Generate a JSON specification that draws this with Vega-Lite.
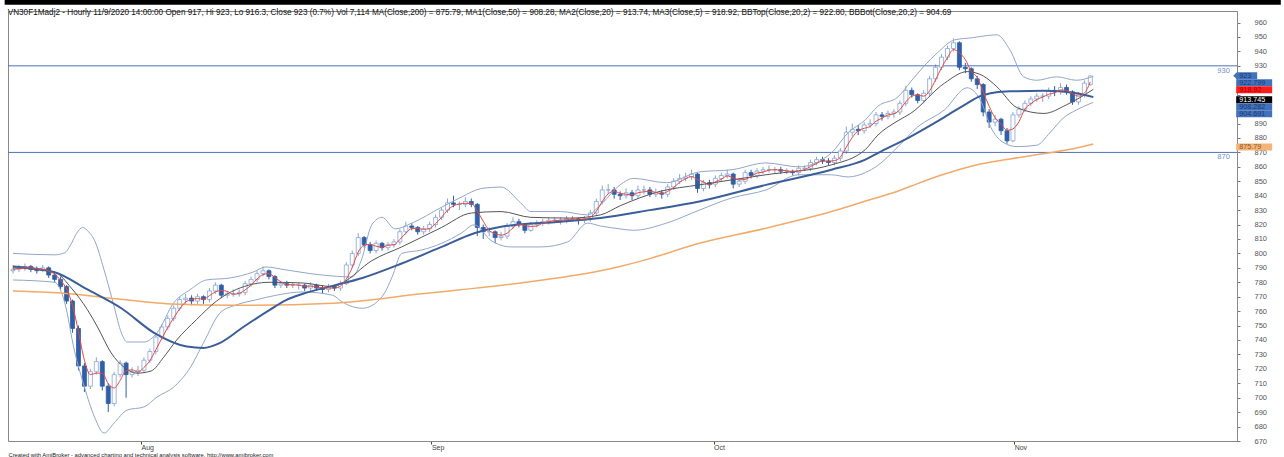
{
"$schema": "https://vega.github.io/schema/vega-lite/v6.json",
"width": 1229, "height": 430,
"autosize": {"type": "none"},
"padding": {"left": 8, "top": 11, "right": 47, "bottom": 16},
"background": "white",
"config": {"view": {"stroke": "#8a8a8a", "strokeWidth": 1}, "font": "Liberation Sans", "axis": {"labelOverlap": false}, "axisY": {"labelOverlap": false}},
"title": {"text": "VN30F1Madj2 - Hourly 11/9/2020 14:00:00 Open 917, Hi 923, Lo 916.3, Close 923 (0.7%) Vol 7,114 MA(Close,200) = 875.79, MA1(Close,50) = 908.28, MA2(Close,20) = 913.74, MA3(Close,5) = 918.92, BBTop(Close,20,2) = 922.80, BBBot(Close,20,2) = 904.69", "anchor": "start", "orient": "top", "offset": -6, "dx": 3, "dy": 12, "fontSize": 8.2, "fontWeight": "normal", "font": "Liberation Sans", "color": "#111111"},
"datasets": {
"candles": [
{"i":0,"o":788,"h":792,"l":786,"c":789,"m":789},
{"i":1,"o":789,"h":792,"l":787,"c":790,"m":789.5},
{"i":2,"o":790,"h":793,"l":788,"c":791,"m":790},
{"i":3,"o":791,"h":792,"l":787,"c":789,"m":790},
{"i":4,"o":789,"h":791,"l":786,"c":788,"m":789.3},
{"i":5,"o":788,"h":792,"l":787,"c":790,"m":789},
{"i":6,"o":790,"h":791,"l":783,"c":785,"m":787.7},
{"i":7,"o":785,"h":787,"l":780,"c":782,"m":785.7},
{"i":8,"o":782,"h":784,"l":775,"c":777,"m":781.3},
{"i":9,"o":777,"h":778,"l":765,"c":767,"m":775.3},
{"i":10,"o":767,"h":768,"l":745,"c":748,"m":764},
{"i":11,"o":748,"h":750,"l":719,"c":722,"m":745.7},
{"i":12,"o":722,"h":724,"l":704,"c":708,"m":726},
{"i":13,"o":708,"h":720,"l":706,"c":718,"m":716},
{"i":14,"o":718,"h":728,"l":716,"c":725,"m":717},
{"i":15,"o":725,"h":726,"l":705,"c":708,"m":717},
{"i":16,"o":708,"h":710,"l":690,"c":696,"m":709.7},
{"i":17,"o":696,"h":718,"l":694,"c":716,"m":706.7},
{"i":18,"o":716,"h":726,"l":714,"c":724,"m":712},
{"i":19,"o":724,"h":725,"l":700,"c":716,"m":718.7},
{"i":20,"o":716,"h":721,"l":714,"c":718,"m":719.3},
{"i":21,"o":718,"h":722,"l":715,"c":719,"m":717.7},
{"i":22,"o":719,"h":728,"l":717,"c":726,"m":721},
{"i":23,"o":726,"h":734,"l":724,"c":732,"m":725.7},
{"i":24,"o":732,"h":744,"l":730,"c":742,"m":733.3},
{"i":25,"o":742,"h":751,"l":740,"c":749,"m":741},
{"i":26,"o":749,"h":757,"l":747,"c":755,"m":748.7},
{"i":27,"o":755,"h":764,"l":753,"c":762,"m":755.3},
{"i":28,"o":762,"h":770,"l":760,"c":768,"m":761.7},
{"i":29,"o":768,"h":772,"l":765,"c":769,"m":766.3},
{"i":30,"o":769,"h":771,"l":764,"c":767,"m":768},
{"i":31,"o":767,"h":772,"l":765,"c":770,"m":768.7},
{"i":32,"o":770,"h":771,"l":765,"c":768,"m":768.3},
{"i":33,"o":768,"h":776,"l":766,"c":774,"m":770.7},
{"i":34,"o":774,"h":780,"l":772,"c":778,"m":773.3},
{"i":35,"o":778,"h":779,"l":769,"c":771,"m":774.3},
{"i":36,"o":771,"h":774,"l":769,"c":772,"m":773.7},
{"i":37,"o":772,"h":775,"l":770,"c":772,"m":771.7},
{"i":38,"o":772,"h":775,"l":770,"c":773,"m":772.3},
{"i":39,"o":773,"h":781,"l":771,"c":779,"m":774.7},
{"i":40,"o":779,"h":784,"l":777,"c":782,"m":778},
{"i":41,"o":782,"h":788,"l":780,"c":786,"m":782.3},
{"i":42,"o":786,"h":791,"l":784,"c":788,"m":785.3},
{"i":43,"o":788,"h":789,"l":782,"c":784,"m":786},
{"i":44,"o":784,"h":785,"l":776,"c":778,"m":783.3},
{"i":45,"o":778,"h":781,"l":776,"c":779,"m":780.3},
{"i":46,"o":779,"h":781,"l":776,"c":778,"m":778.3},
{"i":47,"o":778,"h":780,"l":776,"c":778,"m":778.3},
{"i":48,"o":778,"h":780,"l":775,"c":778,"m":778},
{"i":49,"o":778,"h":779,"l":774,"c":776,"m":777.3},
{"i":50,"o":776,"h":780,"l":774,"c":778,"m":777.3},
{"i":51,"o":778,"h":779,"l":774,"c":776,"m":776.7},
{"i":52,"o":776,"h":778,"l":772,"c":775,"m":776.3},
{"i":53,"o":775,"h":779,"l":773,"c":777,"m":776},
{"i":54,"o":777,"h":778,"l":774,"c":776,"m":776},
{"i":55,"o":776,"h":781,"l":774,"c":779,"m":777.3},
{"i":56,"o":779,"h":794,"l":778,"c":792,"m":782.3},
{"i":57,"o":792,"h":802,"l":790,"c":800,"m":790.3},
{"i":58,"o":800,"h":814,"l":798,"c":811,"m":801},
{"i":59,"o":811,"h":812,"l":804,"c":806,"m":805.7},
{"i":60,"o":806,"h":808,"l":800,"c":802,"m":806.3},
{"i":61,"o":802,"h":809,"l":800,"c":807,"m":805},
{"i":62,"o":807,"h":808,"l":802,"c":804,"m":804.3},
{"i":63,"o":804,"h":808,"l":802,"c":806,"m":805.7},
{"i":64,"o":806,"h":810,"l":804,"c":808,"m":806},
{"i":65,"o":808,"h":817,"l":806,"c":815,"m":809.7},
{"i":66,"o":815,"h":822,"l":813,"c":819,"m":814},
{"i":67,"o":819,"h":821,"l":816,"c":818,"m":817.3},
{"i":68,"o":818,"h":819,"l":813,"c":815,"m":817.3},
{"i":69,"o":815,"h":819,"l":813,"c":817,"m":816.7},
{"i":70,"o":817,"h":822,"l":815,"c":820,"m":817.3},
{"i":71,"o":820,"h":827,"l":818,"c":825,"m":820.7},
{"i":72,"o":825,"h":832,"l":823,"c":830,"m":825},
{"i":73,"o":830,"h":838,"l":828,"c":835,"m":830},
{"i":74,"o":835,"h":840,"l":832,"c":834,"m":833},
{"i":75,"o":834,"h":836,"l":830,"c":834,"m":834.3},
{"i":76,"o":834,"h":839,"l":832,"c":836,"m":834.7},
{"i":77,"o":836,"h":838,"l":832,"c":834,"m":834.7},
{"i":78,"o":834,"h":835,"l":812,"c":818,"m":829.3},
{"i":79,"o":818,"h":820,"l":810,"c":815,"m":822.3},
{"i":80,"o":815,"h":818,"l":812,"c":815,"m":816},
{"i":81,"o":815,"h":816,"l":807,"c":811,"m":813.7},
{"i":82,"o":811,"h":815,"l":809,"c":812,"m":812.7},
{"i":83,"o":812,"h":821,"l":810,"c":819,"m":814},
{"i":84,"o":819,"h":825,"l":817,"c":822,"m":817.7},
{"i":85,"o":822,"h":824,"l":818,"c":820,"m":820.3},
{"i":86,"o":820,"h":821,"l":814,"c":816,"m":819.3},
{"i":87,"o":816,"h":822,"l":815,"c":820,"m":818.7},
{"i":88,"o":820,"h":823,"l":818,"c":821,"m":819},
{"i":89,"o":821,"h":824,"l":819,"c":822,"m":821},
{"i":90,"o":822,"h":825,"l":820,"c":823,"m":822},
{"i":91,"o":823,"h":825,"l":821,"c":823,"m":822.7},
{"i":92,"o":823,"h":825,"l":820,"c":823,"m":823},
{"i":93,"o":823,"h":826,"l":821,"c":824,"m":823.3},
{"i":94,"o":824,"h":826,"l":822,"c":824,"m":823.7},
{"i":95,"o":824,"h":825,"l":820,"c":823,"m":823.7},
{"i":96,"o":823,"h":826,"l":821,"c":824,"m":823.7},
{"i":97,"o":824,"h":830,"l":822,"c":828,"m":825},
{"i":98,"o":828,"h":838,"l":826,"c":836,"m":829.3},
{"i":99,"o":836,"h":847,"l":834,"c":844,"m":836},
{"i":100,"o":844,"h":848,"l":841,"c":844,"m":841.3},
{"i":101,"o":844,"h":846,"l":838,"c":841,"m":843},
{"i":102,"o":841,"h":843,"l":837,"c":840,"m":841.7},
{"i":103,"o":840,"h":845,"l":838,"c":842,"m":841},
{"i":104,"o":842,"h":844,"l":837,"c":840,"m":840.7},
{"i":105,"o":840,"h":847,"l":838,"c":844,"m":842},
{"i":106,"o":844,"h":847,"l":841,"c":844,"m":842.7},
{"i":107,"o":844,"h":846,"l":839,"c":841,"m":843},
{"i":108,"o":841,"h":845,"l":839,"c":842,"m":842.3},
{"i":109,"o":842,"h":844,"l":838,"c":841,"m":841.3},
{"i":110,"o":841,"h":848,"l":839,"c":846,"m":843},
{"i":111,"o":846,"h":852,"l":844,"c":850,"m":845.7},
{"i":112,"o":850,"h":855,"l":848,"c":852,"m":849.3},
{"i":113,"o":852,"h":856,"l":850,"c":853,"m":851.7},
{"i":114,"o":853,"h":858,"l":851,"c":855,"m":853.3},
{"i":115,"o":855,"h":856,"l":842,"c":845,"m":851},
{"i":116,"o":845,"h":851,"l":843,"c":849,"m":849.7},
{"i":117,"o":849,"h":851,"l":845,"c":848,"m":847.3},
{"i":118,"o":848,"h":854,"l":846,"c":852,"m":849.7},
{"i":119,"o":852,"h":856,"l":850,"c":854,"m":851.3},
{"i":120,"o":854,"h":858,"l":852,"c":855,"m":853.7},
{"i":121,"o":855,"h":856,"l":845,"c":848,"m":852.3},
{"i":122,"o":848,"h":852,"l":846,"c":850,"m":851},
{"i":123,"o":850,"h":858,"l":848,"c":856,"m":851.3},
{"i":124,"o":856,"h":858,"l":852,"c":854,"m":853.3},
{"i":125,"o":854,"h":859,"l":852,"c":857,"m":855.7},
{"i":126,"o":857,"h":860,"l":855,"c":858,"m":856.3},
{"i":127,"o":858,"h":861,"l":856,"c":858,"m":857.7},
{"i":128,"o":858,"h":860,"l":855,"c":858,"m":858},
{"i":129,"o":858,"h":860,"l":855,"c":857,"m":857.7},
{"i":130,"o":857,"h":859,"l":855,"c":857,"m":857.3},
{"i":131,"o":857,"h":858,"l":854,"c":856,"m":856.7},
{"i":132,"o":856,"h":861,"l":854,"c":859,"m":857.3},
{"i":133,"o":859,"h":861,"l":857,"c":859,"m":858},
{"i":134,"o":859,"h":865,"l":857,"c":863,"m":860.3},
{"i":135,"o":863,"h":867,"l":861,"c":865,"m":862.3},
{"i":136,"o":865,"h":867,"l":862,"c":864,"m":864},
{"i":137,"o":864,"h":866,"l":861,"c":863,"m":864},
{"i":138,"o":863,"h":868,"l":861,"c":866,"m":864.3},
{"i":139,"o":866,"h":873,"l":864,"c":871,"m":866.7},
{"i":140,"o":871,"h":888,"l":869,"c":884,"m":873.7},
{"i":141,"o":884,"h":890,"l":881,"c":886,"m":880.3},
{"i":142,"o":886,"h":889,"l":882,"c":885,"m":885},
{"i":143,"o":885,"h":891,"l":883,"c":889,"m":886.7},
{"i":144,"o":889,"h":893,"l":887,"c":890,"m":888},
{"i":145,"o":890,"h":898,"l":888,"c":896,"m":891.7},
{"i":146,"o":896,"h":898,"l":892,"c":895,"m":893.7},
{"i":147,"o":895,"h":899,"l":893,"c":897,"m":896},
{"i":148,"o":897,"h":900,"l":894,"c":898,"m":896.7},
{"i":149,"o":898,"h":906,"l":896,"c":904,"m":899.7},
{"i":150,"o":904,"h":916,"l":902,"c":913,"m":905},
{"i":151,"o":913,"h":915,"l":908,"c":910,"m":909},
{"i":152,"o":910,"h":911,"l":904,"c":906,"m":909.7},
{"i":153,"o":906,"h":913,"l":904,"c":911,"m":909},
{"i":154,"o":911,"h":923,"l":909,"c":921,"m":912.7},
{"i":155,"o":921,"h":931,"l":919,"c":929,"m":920.3},
{"i":156,"o":929,"h":938,"l":927,"c":936,"m":928.7},
{"i":157,"o":936,"h":944,"l":934,"c":942,"m":935.7},
{"i":158,"o":942,"h":949,"l":940,"c":946,"m":941.3},
{"i":159,"o":946,"h":947,"l":927,"c":929,"m":939},
{"i":160,"o":929,"h":932,"l":925,"c":928,"m":934.3},
{"i":161,"o":928,"h":929,"l":919,"c":921,"m":926},
{"i":162,"o":921,"h":923,"l":914,"c":917,"m":922},
{"i":163,"o":917,"h":918,"l":895,"c":898,"m":912},
{"i":164,"o":898,"h":900,"l":887,"c":891,"m":902},
{"i":165,"o":891,"h":896,"l":888,"c":893,"m":894},
{"i":166,"o":893,"h":894,"l":882,"c":885,"m":889.7},
{"i":167,"o":885,"h":887,"l":876,"c":878,"m":885.3},
{"i":168,"o":878,"h":898,"l":877,"c":896,"m":886.3},
{"i":169,"o":896,"h":902,"l":894,"c":900,"m":891.3},
{"i":170,"o":900,"h":906,"l":898,"c":904,"m":900},
{"i":171,"o":904,"h":909,"l":902,"c":907,"m":903.7},
{"i":172,"o":907,"h":911,"l":905,"c":909,"m":906.7},
{"i":173,"o":909,"h":911,"l":905,"c":909,"m":908.3},
{"i":174,"o":909,"h":915,"l":907,"c":913,"m":910.3},
{"i":175,"o":913,"h":916,"l":909,"c":912,"m":911.3},
{"i":176,"o":912,"h":918,"l":910,"c":915,"m":913.3},
{"i":177,"o":915,"h":917,"l":910,"c":912,"m":913},
{"i":178,"o":912,"h":913,"l":903,"c":905,"m":910.7},
{"i":179,"o":905,"h":912,"l":903,"c":910,"m":909},
{"i":180,"o":910,"h":920,"l":908,"c":918,"m":911},
{"i":181,"o":917,"h":923,"l":916.3,"c":923,"m":918.9}
],
"lines": [
{"s":"m200","i":0,"v":774},{"s":"m200","i":8,"v":772.5},{"s":"m200","i":15.3,"v":769.5},{"s":"m200","i":26.5,"v":765},{"s":"m200","i":37.5,"v":764},{"s":"m200","i":53.7,"v":765.5},{"s":"m200","i":68.7,"v":772},{"s":"m200","i":85.3,"v":779.5},{"s":"m200","i":98.7,"v":788},{"s":"m200","i":102,"v":791},{"s":"m200","i":105.8,"v":795},{"s":"m200","i":115.3,"v":807},{"s":"m200","i":126.5,"v":817.5},{"s":"m200","i":137.5,"v":829},{"s":"m200","i":143,"v":836},{"s":"m200","i":149.2,"v":844},{"s":"m200","i":150.8,"v":846.5},{"s":"m200","i":156.5,"v":855},{"s":"m200","i":162,"v":861.5},{"s":"m200","i":167.5,"v":865.5},{"s":"m200","i":173,"v":869},{"s":"m200","i":178.7,"v":873},{"s":"m200","i":181.5,"v":875.8},
{"s":"m50","i":0,"v":791},{"s":"m50","i":7,"v":787},{"s":"m50","i":12.5,"v":775},{"s":"m50","i":18.2,"v":762},{"s":"m50","i":23.7,"v":745},{"s":"m50","i":29.2,"v":735.5},{"s":"m50","i":32,"v":734.5},{"s":"m50","i":34.8,"v":738},{"s":"m50","i":38.7,"v":749},{"s":"m50","i":43.2,"v":761},{"s":"m50","i":45.8,"v":767.5},{"s":"m50","i":48.7,"v":772},{"s":"m50","i":53.7,"v":777.5},{"s":"m50","i":58.7,"v":783},{"s":"m50","i":65.3,"v":793},{"s":"m50","i":72,"v":804.5},{"s":"m50","i":77.5,"v":814},{"s":"m50","i":82,"v":818.5},{"s":"m50","i":92,"v":822},{"s":"m50","i":98.7,"v":824.6},{"s":"m50","i":107,"v":830},{"s":"m50","i":115.3,"v":836},{"s":"m50","i":126.5,"v":847.5},{"s":"m50","i":137.5,"v":858},{"s":"m50","i":143.2,"v":865},{"s":"m50","i":145.3,"v":869.5},{"s":"m50","i":150.8,"v":881},{"s":"m50","i":156.5,"v":894.5},{"s":"m50","i":160.3,"v":904},{"s":"m50","i":162.5,"v":909},{"s":"m50","i":165,"v":911.5},{"s":"m50","i":167.5,"v":912.3},{"s":"m50","i":173.2,"v":912.7},{"s":"m50","i":178.7,"v":911},{"s":"m50","i":181.5,"v":908.3},
{"s":"m20","i":0,"v":790},{"s":"m20","i":7,"v":787},{"s":"m20","i":9.8,"v":776},{"s":"m20","i":12.5,"v":761},{"s":"m20","i":14.2,"v":749},{"s":"m20","i":16.5,"v":731},{"s":"m20","i":18.7,"v":721},{"s":"m20","i":20.8,"v":717},{"s":"m20","i":23.2,"v":718.5},{"s":"m20","i":25.3,"v":728},{"s":"m20","i":27.5,"v":740},{"s":"m20","i":30.8,"v":754},{"s":"m20","i":34.2,"v":767},{"s":"m20","i":37.5,"v":775},{"s":"m20","i":43.2,"v":780},{"s":"m20","i":48.7,"v":779.5},{"s":"m20","i":53.7,"v":777},{"s":"m20","i":55.3,"v":779.5},{"s":"m20","i":60.3,"v":795},{"s":"m20","i":65.3,"v":804.5},{"s":"m20","i":72,"v":818},{"s":"m20","i":77,"v":828},{"s":"m20","i":82,"v":829},{"s":"m20","i":87,"v":825},{"s":"m20","i":93.7,"v":824.5},{"s":"m20","i":98.7,"v":826.7},{"s":"m20","i":102,"v":833},{"s":"m20","i":108.7,"v":843},{"s":"m20","i":115.3,"v":847.5},{"s":"m20","i":126.5,"v":854.5},{"s":"m20","i":137.5,"v":861.4},{"s":"m20","i":143.2,"v":872},{"s":"m20","i":145.3,"v":882},{"s":"m20","i":148.7,"v":892},{"s":"m20","i":150.8,"v":897},{"s":"m20","i":156.5,"v":918},{"s":"m20","i":160.3,"v":926},{"s":"m20","i":163,"v":923},{"s":"m20","i":165.3,"v":915.5},{"s":"m20","i":168.7,"v":901},{"s":"m20","i":173.2,"v":897},{"s":"m20","i":177,"v":903},{"s":"m20","i":181.5,"v":913.7},
{"s":"bt","i":0,"v":800},{"s":"bt","i":7,"v":799},{"s":"bt","i":8.7,"v":800.5},{"s":"bt","i":9.7,"v":806},{"s":"bt","i":10.7,"v":814},{"s":"bt","i":11.7,"v":818},{"s":"bt","i":12.7,"v":815},{"s":"bt","i":13.7,"v":809},{"s":"bt","i":15.3,"v":788.6},{"s":"bt","i":17,"v":763},{"s":"bt","i":18.2,"v":745},{"s":"bt","i":19.2,"v":738.6},{"s":"bt","i":22,"v":738.6},{"s":"bt","i":24.2,"v":745},{"s":"bt","i":27,"v":765.7},{"s":"bt","i":29.8,"v":775},{"s":"bt","i":32.5,"v":781.6},{"s":"bt","i":36.5,"v":783},{"s":"bt","i":40.3,"v":787},{"s":"bt","i":42.5,"v":790.6},{"s":"bt","i":45.8,"v":788.6},{"s":"bt","i":52,"v":785},{"s":"bt","i":57,"v":783.7},{"s":"bt","i":58.5,"v":795},{"s":"bt","i":60.3,"v":820},{"s":"bt","i":62,"v":825},{"s":"bt","i":64.2,"v":817},{"s":"bt","i":67,"v":821},{"s":"bt","i":72,"v":832},{"s":"bt","i":75.3,"v":839},{"s":"bt","i":78.7,"v":845},{"s":"bt","i":82,"v":846},{"s":"bt","i":85.3,"v":835},{"s":"bt","i":87,"v":829},{"s":"bt","i":92,"v":829},{"s":"bt","i":96.5,"v":826.7},{"s":"bt","i":98.7,"v":833.6},{"s":"bt","i":102,"v":847.5},{"s":"bt","i":104.2,"v":852},{"s":"bt","i":109.8,"v":849},{"s":"bt","i":115.3,"v":856.5},{"s":"bt","i":120.8,"v":858},{"s":"bt","i":126.5,"v":862.7},{"s":"bt","i":132,"v":860},{"s":"bt","i":137.5,"v":869.7},{"s":"bt","i":140.3,"v":883.6},{"s":"bt","i":143.2,"v":892.6},{"s":"bt","i":145.3,"v":902},{"s":"bt","i":148.7,"v":908.5},{"s":"bt","i":150.8,"v":919},{"s":"bt","i":155.3,"v":939},{"s":"bt","i":158.2,"v":948},{"s":"bt","i":161.2,"v":949.5},{"s":"bt","i":163.7,"v":951},{"s":"bt","i":165.3,"v":951.5},{"s":"bt","i":167.5,"v":941},{"s":"bt","i":169.8,"v":922.4},{"s":"bt","i":172,"v":920},{"s":"bt","i":175.3,"v":922.4},{"s":"bt","i":178.7,"v":920},{"s":"bt","i":181.5,"v":922.8},
{"s":"bb","i":0,"v":781.6},{"s":"bb","i":7,"v":780},{"s":"bb","i":8.7,"v":765.7},{"s":"bb","i":10.3,"v":733},{"s":"bb","i":12,"v":707.4},{"s":"bb","i":13.7,"v":686.6},{"s":"bb","i":15.3,"v":675.5},{"s":"bb","i":17,"v":682.5},{"s":"bb","i":19.2,"v":691.5},{"s":"bb","i":22,"v":693.6},{"s":"bb","i":24.2,"v":700.5},{"s":"bb","i":27,"v":707.4},{"s":"bb","i":29.8,"v":721},{"s":"bb","i":32,"v":738},{"s":"bb","i":34.8,"v":758.8},{"s":"bb","i":37.5,"v":764.3},{"s":"bb","i":40.8,"v":767.8},{"s":"bb","i":44.2,"v":771},{"s":"bb","i":48.7,"v":773.3},{"s":"bb","i":53.7,"v":771},{"s":"bb","i":55.3,"v":766.4},{"s":"bb","i":58.7,"v":762},{"s":"bb","i":62,"v":770},{"s":"bb","i":63.7,"v":783.7},{"s":"bb","i":65.3,"v":800},{"s":"bb","i":68.7,"v":802.4},{"s":"bb","i":72,"v":807},{"s":"bb","i":75.3,"v":814},{"s":"bb","i":77.5,"v":819.8},{"s":"bb","i":80.3,"v":809},{"s":"bb","i":83.7,"v":804.5},{"s":"bb","i":88.7,"v":804.5},{"s":"bb","i":93.2,"v":808},{"s":"bb","i":96.5,"v":821},{"s":"bb","i":98.7,"v":819},{"s":"bb","i":102,"v":817},{"s":"bb","i":104.2,"v":816},{"s":"bb","i":109.8,"v":821},{"s":"bb","i":115.3,"v":830},{"s":"bb","i":120.8,"v":838.5},{"s":"bb","i":126.5,"v":844},{"s":"bb","i":132,"v":854.5},{"s":"bb","i":137.5,"v":854.5},{"s":"bb","i":140.3,"v":853},{"s":"bb","i":143.2,"v":856},{"s":"bb","i":145.3,"v":861},{"s":"bb","i":148.7,"v":874},{"s":"bb","i":152,"v":887.7},{"s":"bb","i":156.5,"v":899.5},{"s":"bb","i":160.3,"v":914.8},{"s":"bb","i":162.5,"v":906.5},{"s":"bb","i":164.5,"v":885.7},{"s":"bb","i":166.5,"v":876.6},{"s":"bb","i":168.7,"v":874},{"s":"bb","i":172,"v":875},{"s":"bb","i":174.2,"v":883.6},{"s":"bb","i":176.5,"v":894},{"s":"bb","i":178.7,"v":899.5},{"s":"bb","i":181.5,"v":904.7}
],
"levels": [{"lv": 930}, {"lv": 870}],
"tags": [
{"t":"923","v":923.1,"k":"p"},
{"t":"922.799","v":918.3,"k":"b"},
{"t":"918.92","v":913.4,"k":"r"},
{"t":"913.745","v":906.5,"k":"k"},
{"t":"908.282","v":901.6,"k":"b"},
{"t":"904.691","v":896.8,"k":"b"},
{"t":"875.79","v":873.8,"k":"o"}
]
},
"layer": [
{"data": {"name": "candles"},
 "mark": {"type": "rule", "strokeWidth": 1},
 "encoding": {
  "x": {"field": "i", "type": "quantitative",
   "scale": {"domain": [0, 204.8], "nice": false, "zero": false},
   "axis": {"title": "Created with AmiBroker - advanced charting and technical analysis software. http://www.amibroker.com", "titleAnchor": "start", "titleAlign": "left", "titleFontSize": 5.8, "titleFontWeight": "normal", "titleColor": "#222222", "titlePadding": 1, "titleFont": "Liberation Sans",
    "values": [21.5, 70.3, 117.7, 168.2], "labelExpr": "datum.value < 40 ? 'Aug' : datum.value < 90 ? 'Sep' : datum.value < 140 ? 'Oct' : 'Nov'",
    "grid": false, "domainColor": "#8a8a8a", "tickColor": "#444444", "tickSize": 3, "labelAlign": "left", "labelBaseline": "top", "labelPadding": -1, "labelFontSize": 7, "labelColor": "#444444", "labelFlush": false, "labelFont": "Liberation Sans", "labelOverlap": false}},
  "y": {"field": "l", "type": "quantitative",
   "scale": {"domain": [670, 968], "nice": false, "zero": false},
   "axis": {"title": null, "orient": "right", "tickCount": 30,
    "labelExpr": "datum.value > 895 && datum.value < 925 ? '' : datum.label",
    "grid": false, "domainColor": "#8a8a8a", "tickColor": "#777777", "tickSize": 3, "labelPadding": 14, "labelAlign": "left", "labelFontSize": 7.5, "labelColor": "#555555", "labelFont": "Liberation Sans", "labelOverlap": false, "labelSeparation": 0, "labelFlush": false}},
  "y2": {"field": "h"},
  "color": {"condition": {"test": "datum.c < datum.o", "value": "#2f5fa7"}, "value": "#86a5d6"}
 }},
{"data": {"values": [{}]},
 "mark": {"type": "rect", "color": "#000000", "clip": false},
 "encoding": {"x": {"datum": -1.4, "type": "quantitative"}, "x2": {"datum": 213}, "y": {"datum": 972.3, "type": "quantitative"}, "y2": {"datum": 976}}},
{"data": {"name": "levels"},
 "mark": {"type": "rule", "color": "#4d72b5", "strokeWidth": 1},
 "encoding": {"y": {"field": "lv", "type": "quantitative"}}},
{"data": {"name": "levels"},
 "mark": {"type": "text", "align": "right", "baseline": "top", "dx": -1, "dy": 1, "fontSize": 7.5, "color": "#6f8fc8", "font": "Liberation Sans"},
 "encoding": {"x": {"datum": 204.6, "type": "quantitative"}, "y": {"field": "lv", "type": "quantitative"}, "text": {"field": "lv"}}},
{"data": {"name": "candles"},
 "mark": {"type": "bar", "width": 4, "strokeWidth": 0.8},
 "encoding": {
  "x": {"field": "i", "type": "quantitative"},
  "y": {"field": "o", "type": "quantitative"},
  "y2": {"field": "c"},
  "fill": {"condition": {"test": "datum.c < datum.o", "value": "#2f5fa7"}, "value": "#ffffff"},
  "stroke": {"condition": {"test": "datum.c < datum.o", "value": "#2f5fa7"}, "value": "#86a5d6"}
 }},
{"data": {"name": "lines"}, "transform": [{"filter": "datum.s === 'bt'"}],
 "mark": {"type": "line", "color": "#93a6cb", "strokeWidth": 1, "interpolate": "monotone"},
 "encoding": {"x": {"field": "i", "type": "quantitative"}, "y": {"field": "v", "type": "quantitative"}}},
{"data": {"name": "lines"}, "transform": [{"filter": "datum.s === 'bb'"}],
 "mark": {"type": "line", "color": "#93a6cb", "strokeWidth": 1, "interpolate": "monotone"},
 "encoding": {"x": {"field": "i", "type": "quantitative"}, "y": {"field": "v", "type": "quantitative"}}},
{"data": {"name": "lines"}, "transform": [{"filter": "datum.s === 'm200'"}],
 "mark": {"type": "line", "color": "#f2aa6a", "strokeWidth": 1.5, "interpolate": "monotone"},
 "encoding": {"x": {"field": "i", "type": "quantitative"}, "y": {"field": "v", "type": "quantitative"}}},
{"data": {"name": "lines"}, "transform": [{"filter": "datum.s === 'm20'"}],
 "mark": {"type": "line", "color": "#555555", "strokeWidth": 1, "interpolate": "monotone"},
 "encoding": {"x": {"field": "i", "type": "quantitative"}, "y": {"field": "v", "type": "quantitative"}}},
{"data": {"name": "lines"}, "transform": [{"filter": "datum.s === 'm50'"}],
 "mark": {"type": "line", "color": "#3b5e9b", "strokeWidth": 2, "interpolate": "monotone"},
 "encoding": {"x": {"field": "i", "type": "quantitative"}, "y": {"field": "v", "type": "quantitative"}}},
{"data": {"name": "candles"},
 "mark": {"type": "line", "color": "#e8483e", "strokeWidth": 1, "interpolate": "monotone"},
 "encoding": {"x": {"field": "i", "type": "quantitative"}, "y": {"field": "m", "type": "quantitative"}}},
{"data": {"name": "tags"}, "transform": [{"filter": "datum.k !== 'p'"}],
 "mark": {"type": "point", "shape": "M0,-0.097H1V0.097H0Z", "size": 5184, "filled": true, "opacity": 1, "strokeWidth": 0},
 "encoding": {"x": {"datum": 205.5, "type": "quantitative"}, "y": {"field": "v", "type": "quantitative"},
  "fill": {"field": "k", "type": "nominal", "scale": {"domain": ["p","b","r","k","o"], "range": ["#4272bb","#4272bb","#ff1c1c","#000000","#f5b57a"]}, "legend": null}}},
{"data": {"name": "tags"}, "transform": [{"filter": "datum.k === 'p'"}],
 "mark": {"type": "point", "shape": "M0,0L0.15,-0.146H1V0.146H0.15Z", "size": 2304, "filled": true, "opacity": 1, "strokeWidth": 0},
 "encoding": {"x": {"datum": 205.0, "type": "quantitative"}, "y": {"field": "v", "type": "quantitative"},
  "fill": {"field": "k", "type": "nominal", "legend": null}}},
{"data": {"name": "tags"},
 "mark": {"type": "text", "align": "left", "baseline": "middle", "dx": 3, "fontSize": 7.2, "font": "Liberation Sans"},
 "encoding": {"x": {"datum": 205.5, "type": "quantitative"}, "y": {"field": "v", "type": "quantitative"}, "text": {"field": "t"},
  "color": {"field": "k", "type": "nominal", "scale": {"domain": ["p","b","r","k","o"], "range": ["#1b3a72","#1b3a72","#a40000","#ffffff","#8a5a22"]}, "legend": null}}}
]
}
